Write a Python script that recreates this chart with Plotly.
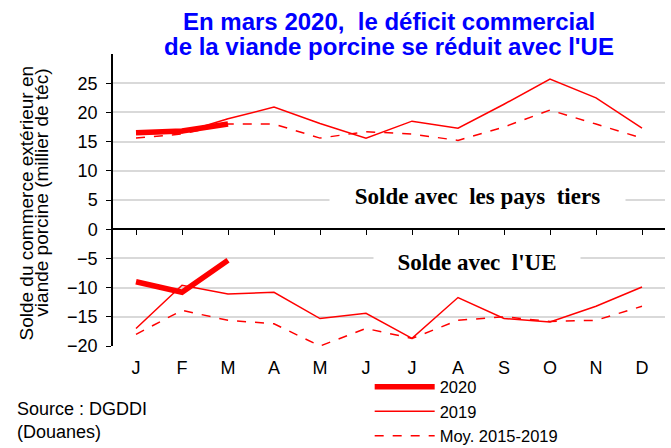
import plotly.graph_objects as go

months = ["J", "F", "M", "A", "M", "J", "J", "A", "S", "O", "N", "D"]
cats = list(range(12))

tiers_2020 = [16.5, 16.8, 18.0]
tiers_2019 = [16.3, 16.5, 18.9, 20.9, 18.1, 15.6, 18.5, 17.3, 21.4, 25.7, 22.5, 17.3]
tiers_moy = [15.6, 16.3, 18.0, 18.0, 15.6, 16.7, 16.3, 15.2, 17.5, 20.4, 18.0, 15.6]

ue_2020 = [-9.0, -10.8, -5.3]
ue_2019 = [-17.0, -9.6, -11.1, -10.8, -15.3, -14.4, -18.7, -11.7, -15.3, -15.9, -13.2, -9.9]
ue_moy = [-18.0, -13.9, -15.6, -16.2, -20.0, -17.0, -18.7, -15.6, -15.0, -15.8, -15.6, -13.2]

yticks = [-20, -15, -10, -5, 0, 5, 10, 15, 20, 25]

RED = "#ff0000"
FONT = "Liberation Sans, Arial, sans-serif"
SERIF = "Liberation Serif, Times New Roman, serif"

fig = go.Figure()

series = [
    ("2020", tiers_2020, ue_2020, dict(color=RED, width=5.5)),
    ("2019", tiers_2019, ue_2019, dict(color=RED, width=1.5)),
    ("Moy. 2015-2019", tiers_moy, ue_moy, dict(color=RED, width=1.5, dash="dash")),
]
for name, top, bot, line in series:
    fig.add_trace(go.Scatter(x=cats[:len(top)], y=top, mode="lines", line=line,
                             name=name, legendgroup=name, showlegend=True))
    fig.add_trace(go.Scatter(x=cats[:len(bot)], y=bot, mode="lines", line=line,
                             name=name, legendgroup=name, showlegend=False))

# invisible trace carrying the zero-line axis with its ticks
fig.add_trace(go.Scatter(x=cats, y=[None] * 12, xaxis="x2", mode="lines",
                         showlegend=False, hoverinfo="skip"))

fig.update_layout(
    width=671, height=448,
    margin=dict(l=113, r=6, t=54, b=102),
    paper_bgcolor="white", plot_bgcolor="white",
    font=dict(family=FONT, size=18, color="black"),
    xaxis=dict(
        range=[-0.5, 11.5], tickvals=cats, ticktext=months,
        showgrid=False, showline=False, zeroline=False, ticks="",
        ticklabelstandoff=9, tickfont=dict(size=18), automargin=False,
    ),
    xaxis2=dict(
        overlaying="x", matches="x", anchor="free", position=0.4,
        showline=True, linecolor="black", linewidth=1.5,
        ticks="outside", tickson="boundaries", ticklen=5, tickcolor="black",
        tickvals=cats, showticklabels=False, showgrid=False, zeroline=False,
        automargin=False,
    ),
    yaxis=dict(
        range=[-20, 30], tickvals=yticks, showgrid=True, gridcolor="#d9d9d9",
        gridwidth=1.5, zeroline=False, showline=True, linecolor="black",
        linewidth=1.5, ticks="outside", ticklen=5, tickcolor="black",
        tickfont=dict(size=18), ticklabelstandoff=5, automargin=False,
    ),
    legend=dict(
        x=0.465, y=0.175, xref="paper", yref="container",
        xanchor="left", yanchor="top",
        font=dict(size=16.5), bgcolor="rgba(0,0,0,0)",
        tracegroupgap=0, itemwidth=60,
    ),
    showlegend=True,
)

# title (two lines)
fig.add_annotation(text="<b>En mars 2020,  le déficit commercial</b>",
                   x=0.5, y=1.1096, xref="paper", yref="paper", showarrow=False,
                   xanchor="center", yanchor="middle",
                   font=dict(size=24, color="#0000ff"))
fig.add_annotation(text="<b>de la viande porcine se réduit avec l'UE</b>",
                   x=0.5, y=1.024, xref="paper", yref="paper", showarrow=False,
                   xanchor="center", yanchor="middle",
                   font=dict(size=24, color="#0000ff"))

# panel labels
fig.add_annotation(
    text="<b>Solde avec  les pays  tiers</b>", x=7.43, y=5.65, xref="x", yref="y",
    showarrow=False, bgcolor="white", width=295, borderpad=0,
    xanchor="center", yanchor="middle",
    font=dict(family=SERIF, size=23),
)
fig.add_annotation(
    text="<b>Solde avec  l'UE</b>", x=7.41, y=-5.65, xref="x", yref="y",
    showarrow=False, bgcolor="white", width=206, borderpad=0,
    xanchor="center", yanchor="middle",
    font=dict(family=SERIF, size=23),
)

# y-axis title (two lines)
fig.add_annotation(text="Solde du commerce extérieur en",
                   x=-0.1576, y=0.488, xref="paper", yref="paper", textangle=-90,
                   xanchor="center", yanchor="middle",
                   showarrow=False, font=dict(size=19))
fig.add_annotation(text="viande porcine (millier de téc)",
                   x=-0.130, y=0.526, xref="paper", yref="paper", textangle=-90,
                   xanchor="center", yanchor="middle",
                   showarrow=False, font=dict(size=19))

fig.add_annotation(
    text="Source : DGDDI<br>(Douanes)", x=-0.178, y=-0.175, xref="paper", yref="paper",
    xanchor="left", yanchor="top", align="left", showarrow=False,
    font=dict(size=18),
)

fig.write_html(
    "out.html",
    config={"displayModeBar": False},
    post_script="document.body.style.margin='0';document.body.style.overflow='hidden';",
)
